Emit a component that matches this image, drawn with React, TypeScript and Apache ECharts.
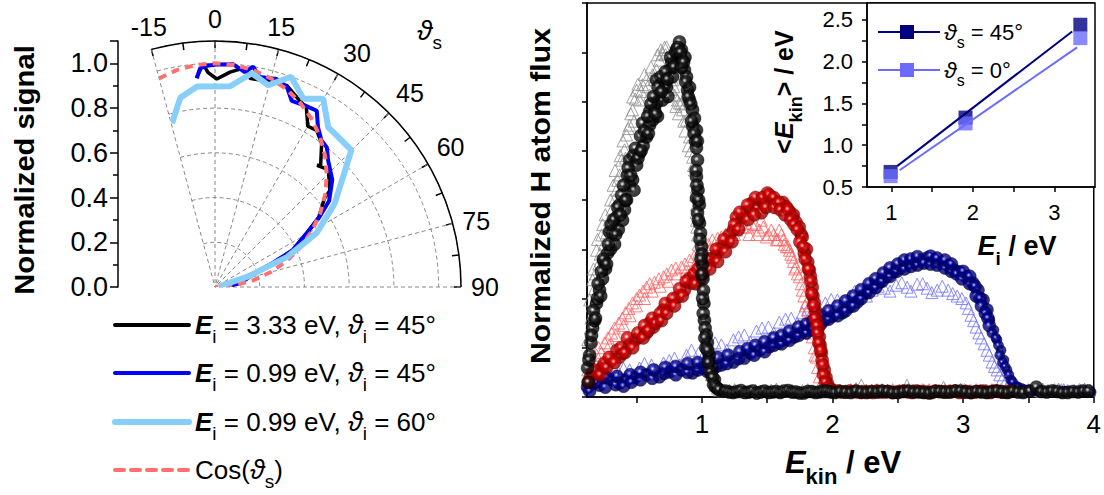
import React, { useEffect, useRef } from "react";
import * as echarts from "echarts";

const FONT = "'Liberation Sans', Arial, Helvetica, sans-serif";

// ---------- Left panel: angular distributions [angle (deg), normalized signal]
const polarE333i45: number[][] = [[-5,0.94],[-3.1,1.0],[-1.9,0.96],[0.5,0.93],[4,0.963],[7.8,0.99],[9.5,0.946],[15,0.95],[19.6,0.957],[23.3,0.924],[27,0.9],[30,0.83],[33,0.835],[36.6,0.8],[41,0.72],[40,0.71],[44,0.73],[50,0.67],[51,0.63],[56,0.56],[59.6,0.476],[64.6,0.385],[67.5,0.28],[70,0.198],[81.6,0.113],[86,0.05]];
const polarE099i45: number[][] = [[-5,0.936],[-3.9,0.98],[-2.1,0.99],[0.4,0.995],[4.7,0.999],[7.9,0.97],[9.8,1.0],[12,0.96],[16.5,0.97],[19.8,0.95],[22.4,0.9],[26.3,0.906],[30,0.91],[32.8,0.85],[36,0.81],[38.7,0.8],[41.7,0.76],[47.6,0.71],[52.9,0.64],[56.3,0.56],[59.6,0.476],[64.6,0.385],[67.5,0.28],[70,0.198],[81.6,0.113],[86,0.05]];
const polarE099i60: number[][] = [[-14.7,0.757],[-10.4,0.86],[-5.1,0.9],[4.3,0.9],[9.8,0.97],[14.8,0.933],[19.9,1.0],[25.1,0.93],[29.9,0.971],[35.3,0.876],[44.9,0.864],[55.1,0.653],[62,0.515],[67.4,0.35],[72.6,0.15],[80,0.02]];
const polarCos: number[][] = [[-15,0.966],[-10,0.985],[-5,0.996],[0,1],[5,0.996],[10,0.985],[15,0.966],[20,0.94],[25,0.906],[30,0.866],[35,0.819],[40,0.766],[45,0.707],[50,0.643],[55,0.574],[60,0.5],[65,0.423],[70,0.342],[75,0.259],[80,0.174],[85,0.087],[90,0]];
const legendEi = ["3.33", "0.99", "0.99"];
const legendThetaI = ["45", "45", "60"];

// ---------- Right panel: kinetic energy distributions [E_kin (eV), flux (arb.)]
const sph099: number[][] = [[0.125,0.59],[0.14,0.85],[0.15,1.1],[0.163,1.4],[0.178,1.55],[0.193,1.9],[0.2,2.0],[0.216,2.17],[0.239,2.4],[0.25,2.75],[0.262,2.6],[0.278,2.92],[0.293,3.35],[0.3,3.0],[0.316,3.33],[0.331,3.1],[0.346,3.65],[0.36,3.4],[0.369,3.9],[0.392,3.59],[0.407,3.8],[0.423,4.0],[0.43,4.5],[0.446,4.3],[0.469,4.41],[0.48,4.2],[0.446,4.81],[0.5,4.71],[0.522,4.95],[0.545,5.56],[0.55,5.1],[0.576,5.28],[0.599,5.52],[0.6,5.8],[0.622,5.62],[0.637,5.83],[0.652,5.97],[0.652,6.44],[0.66,5.7],[0.675,6.13],[0.698,6.03],[0.7,6.4],[0.713,6.34],[0.729,6.29],[0.74,6.1],[0.752,6.64],[0.77,6.8],[0.775,6.5],[0.79,6.94],[0.805,6.78],[0.805,7.05],[0.82,6.9],[0.828,7.21],[0.843,7.05],[0.851,6.84],[0.866,6.64],[0.87,6.9],[0.882,6.5],[0.89,6.23],[0.905,6.29],[0.905,6.03],[0.928,5.83],[0.93,5.5],[0.943,5.66],[0.95,5.2],[0.958,5.42],[0.958,5.06],[0.966,4.81],[0.958,4.47],[0.97,4.2],[0.958,4.04],[0.98,3.9],[0.966,3.74],[0.981,3.53],[0.989,3.33],[0.997,3.05],[1.0,2.9],[1.004,2.68],[1.008,2.4],[1.012,2.17],[1.015,1.9],[1.019,1.56],[1.025,1.4],[1.035,1.26],[1.042,1.1],[1.057,0.85],[1.073,0.59],[1.096,0.35],[1.118,0.18],[1.149,0.12],
  [0.13,0.3],[0.135,0.75],[0.155,1.25],[0.17,1.75],[0.185,1.6],[0.205,2.3],[0.225,2.05],[0.23,2.55],[0.245,2.8],[0.27,2.7],[0.285,3.1],[0.305,3.5],[0.325,3.6],[0.34,3.3],[0.355,3.85],[0.375,3.7],[0.385,4.1],[0.4,4.3],[0.415,4.0],[0.435,4.65],[0.455,4.5],[0.475,4.9],[0.49,5.05],[0.51,4.85],[0.53,5.3],[0.535,5.0],[0.56,5.4],[0.585,5.7],[0.59,5.35],[0.61,5.95],[0.63,6.1],[0.645,5.75],[0.665,6.3],[0.685,6.5],[0.69,6.2],[0.72,6.6],[0.735,6.45],[0.76,6.9],[0.785,6.7],[0.8,7.0],[0.815,7.1],[0.835,7.0],[0.845,6.7],[0.86,6.8],[0.875,6.4],[0.895,6.1],[0.915,5.95],[0.92,5.6],[0.94,5.35],[0.965,5.2],[0.955,4.6],[0.962,4.3],[0.975,4.0],[0.972,3.6],[0.985,3.2],[0.993,2.8],[1.0,2.5],[1.006,2.0],[1.01,1.7],[1.022,1.2],[1.03,1.0],[1.045,0.95],[1.05,0.7],[1.065,0.5],[1.08,0.4],[1.09,0.25],[1.105,0.2],[1.13,0.15],
  [1.18,0.12],[1.21,0.1],[1.24,0.09],[1.27,0.11],[1.3,0.13],[1.33,0.09],[1.36,0.1],[1.39,0.12],[1.42,0.08],[1.45,0.1],[1.48,0.12],[1.51,0.09],[1.54,0.1],[1.57,0.11],[1.6,0.09],[1.63,0.12],[1.66,0.13],[1.69,0.1],[1.72,0.1],[1.75,0.08],[1.78,0.08],[1.81,0.11],[1.84,0.11],[1.87,0.09],[1.9,0.1],[1.93,0.12],[1.96,0.12],[1.99,0.1],[2.02,0.09],[2.06,0.11],[2.1,0.1],[2.14,0.09],[2.18,0.12],[2.22,0.1],[2.26,0.09],[2.3,0.11],[2.34,0.1],[2.38,0.12],[2.42,0.11],[2.46,0.09],[2.5,0.09],[2.54,0.11],[2.58,0.12],[2.62,0.1],[2.66,0.1],[2.7,0.09],[2.74,0.08],[2.78,0.11],[2.82,0.11],[2.86,0.1],[2.9,0.1],[2.94,0.12],[2.98,0.12],[3.02,0.1],[3.06,0.09],[3.1,0.11],[3.14,0.1],[3.18,0.09],[3.22,0.11],[3.26,0.12],[3.3,0.1],[3.34,0.09],[3.38,0.12],[3.42,0.1],[3.46,0.09],[3.51,0.12],[3.56,0.2],[3.6,0.11],[3.64,0.1],[3.68,0.12],[3.72,0.11],[3.76,0.09],[3.8,0.09],[3.84,0.11],[3.88,0.1],[3.92,0.12],[3.96,0.12]];
const tri099: number[][] = [[0.125,0.55],[0.125,1.16],[0.14,1.97],[0.15,1.6],[0.163,2.38],[0.178,2.2],[0.193,2.98],[0.21,2.7],[0.232,3.29],[0.25,3.1],[0.27,3.33],[0.29,3.6],[0.31,3.8],[0.33,4.0],[0.346,4.2],[0.369,4.51],[0.385,4.81],[0.407,5.02],[0.423,5.32],[0.446,5.52],[0.469,5.83],[0.469,6.09],[0.5,6.23],[0.522,6.03],[0.545,6.34],[0.576,6.44],[0.599,6.13],[0.622,6.54],[0.652,6.64],[0.675,6.84],[0.698,6.98],[0.713,7.1],[0.729,7.11],[0.752,6.84],[0.775,6.44],[0.79,6.13],[0.813,6.03],[0.828,5.97],[0.851,5.83],[0.882,5.62],[0.905,5.28],[0.928,4.87],[0.943,4.61],[0.958,4.26],[0.958,3.9],[0.958,3.59],[0.966,3.29],[0.981,2.88],[0.997,2.48],[1.012,1.97],[1.027,1.36],[1.05,0.85],[1.073,0.45],[1.103,0.24],[1.134,0.14],
  [0.13,0.9],[0.145,1.4],[0.16,1.85],[0.17,2.6],[0.185,2.5],[0.2,3.2],[0.22,2.9],[0.24,3.5],[0.26,3.7],[0.28,3.45],[0.3,4.0],[0.32,4.3],[0.335,4.6],[0.355,4.4],[0.375,4.9],[0.395,5.2],[0.415,4.85],[0.435,5.45],[0.455,5.75],[0.48,5.6],[0.49,6.05],[0.51,6.35],[0.535,6.2],[0.56,6.55],[0.585,6.3],[0.61,6.7],[0.635,6.45],[0.66,6.95],[0.685,7.05],[0.72,6.95],[0.74,6.6],[0.76,6.25],[0.785,6.3],[0.8,5.9],[0.82,5.75],[0.84,5.95],[0.86,5.6],[0.87,5.4],[0.895,5.1],[0.915,5.0],[0.935,4.7],[0.95,4.4],[0.952,4.1],[0.955,3.75],[0.96,3.45],[0.972,3.1],[0.99,2.7],[1.005,2.2],[1.02,1.65],[1.035,1.1],[1.06,0.65],[1.085,0.35],[1.12,0.18],
  [1.17,0.12],[1.21,0.14],[1.25,0.15],[1.29,0.11],[1.33,0.1],[1.37,0.13],[1.41,0.14],[1.45,0.12],[1.49,0.11],[1.53,0.14],[1.57,0.16],[1.61,0.13],[1.65,0.12],[1.69,0.14],[1.73,0.1],[1.77,0.13],[1.81,0.15],[1.85,0.12],[1.89,0.12],[1.93,0.14],[1.97,0.1],[2.01,0.13],[2.05,0.14],[2.09,0.12],[2.13,0.12],[2.18,0.16],[2.22,0.24],[2.26,0.14],[2.3,0.13],[2.34,0.12],[2.38,0.15],[2.42,0.13],[2.46,0.11],[2.51,0.14],[2.57,0.24],[2.61,0.14],[2.65,0.13],[2.69,0.15],[2.73,0.12],[2.79,0.14],[2.85,0.2],[2.89,0.13],[2.93,0.13],[2.97,0.12],[3.01,0.15],[3.05,0.13],[3.09,0.12],[3.13,0.14],[3.17,0.14],[3.21,0.12],[3.25,0.13],[3.29,0.15],[3.33,0.15],[3.39,0.13],[3.45,0.12],[3.5,0.15],[3.55,0.14],[3.6,0.12],[3.65,0.13],[3.7,0.14],[3.75,0.15],[3.8,0.13],[3.85,0.12],[3.9,0.14],[3.95,0.14]];
const sph193: number[][] = [[0.148,0.41],[0.163,0.49],[0.2,0.51],[0.239,0.61],[0.255,0.69],[0.308,0.75],[0.35,0.95],[0.369,0.81],[0.392,0.89],[0.446,1.06],[0.492,1.16],[0.522,1.22],[0.576,1.3],[0.6,1.5],[0.629,1.42],[0.66,1.56],[0.706,1.77],[0.752,1.87],[0.813,2.03],[0.866,2.17],[0.9,2.4],[0.92,2.31],[0.981,2.38],[1.0,2.7],[1.027,2.64],[1.08,2.78],[1.1,2.85],[1.134,2.98],[1.157,3.05],[1.2,3.15],[1.21,3.29],[1.241,3.39],[1.264,3.65],[1.31,3.65],[1.33,3.75],[1.371,3.8],[1.386,3.94],[1.425,3.84],[1.44,4.0],[1.455,3.74],[1.478,3.94],[1.501,4.14],[1.531,4.04],[1.57,3.94],[1.608,3.9],[1.62,3.95],[1.646,3.86],[1.67,3.76],[1.692,3.65],[1.7,3.7],[1.72,3.55],[1.745,3.45],[1.76,3.3],[1.768,3.25],[1.784,2.92],[1.8,3.0],[1.81,2.74],[1.822,2.58],[1.83,2.45],[1.845,2.23],[1.85,2.05],[1.861,1.91],[1.87,1.75],[1.876,1.56],[1.89,1.4],[1.899,1.22],[1.905,1.05],[1.914,0.89],[1.92,0.75],[1.937,0.55],[1.95,0.4],[1.96,0.28],[1.998,0.14],
  [0.13,0.3],[0.175,0.55],[0.22,0.45],[0.27,0.6],[0.29,0.8],[0.33,0.7],[0.38,1.0],[0.41,0.9],[0.43,1.2],[0.47,1.0],[0.51,1.3],[0.55,1.2],[0.56,1.45],[0.59,1.35],[0.62,1.6],[0.645,1.5],[0.68,1.7],[0.69,1.55],[0.72,1.9],[0.73,1.7],[0.78,2.0],[0.79,1.85],[0.83,2.2],[0.85,2.05],[0.88,2.35],[0.94,2.5],[0.95,2.3],[0.97,2.6],[1.01,2.5],[1.05,2.8],[1.06,2.6],[1.11,3.0],[1.12,2.75],[1.17,3.2],[1.18,2.95],[1.23,3.15],[1.25,3.5],[1.28,3.4],[1.29,3.75],[1.35,3.6],[1.35,3.9],[1.4,3.7],[1.41,4.05],[1.465,4.05],[1.49,3.85],[1.515,4.1],[1.55,4.05],[1.555,3.85],[1.59,3.95],[1.6,3.8],[1.635,3.7],[1.66,3.8],[1.68,3.6],[1.705,3.5],[1.73,3.4],[1.75,3.15],[1.775,3.05],[1.79,2.8],[1.815,2.6],[1.835,2.35],[1.84,2.1],[1.855,1.85],[1.865,1.6],[1.88,1.45],[1.885,1.3],[1.895,1.1],[1.91,0.95],[1.925,0.65],[1.93,0.45],[1.945,0.3],[1.97,0.2],[1.98,0.15],[2.01,0.11],
  [2.04,0.12],[2.07,0.1],[2.1,0.1],[2.13,0.12],[2.16,0.11],[2.19,0.1],[2.22,0.09],[2.25,0.11],[2.28,0.1],[2.31,0.09],[2.34,0.12],[2.37,0.1],[2.4,0.1],[2.43,0.11],[2.46,0.09],[2.49,0.1],[2.52,0.11],[2.55,0.12],[2.58,0.1],[2.61,0.09],[2.64,0.12],[2.67,0.11],[2.7,0.1],[2.73,0.1],[2.76,0.09],[2.79,0.12],[2.82,0.11],[2.85,0.1],[2.88,0.1],[2.91,0.11],[2.94,0.12],[2.97,0.09],[3.0,0.1],[3.03,0.11],[3.06,0.09],[3.09,0.1],[3.12,0.11],[3.15,0.12],[3.18,0.1],[3.21,0.09],[3.24,0.12],[3.27,0.11],[3.3,0.1],[3.33,0.1],[3.36,0.11]];
const tri193: number[][] = [[0.125,0.35],[0.155,0.65],[0.193,0.85],[0.255,1.1],[0.308,1.3],[0.362,1.5],[0.415,1.71],[0.469,1.91],[0.522,2.07],[0.576,2.23],[0.637,2.33],[0.706,2.44],[0.767,2.58],[0.843,2.64],[0.905,2.78],[0.974,2.92],[1.027,3.05],[1.08,3.19],[1.149,3.25],[1.21,3.33],[1.264,3.39],[1.317,3.45],[1.379,3.53],[1.44,3.39],[1.455,3.59],[1.493,3.25],[1.531,3.39],[1.57,3.19],[1.592,3.39],[1.623,3.19],[1.646,3.05],[1.67,2.98],[1.692,2.84],[1.72,2.64],[1.745,2.44],[1.768,2.17],[1.799,1.91],[1.822,1.62],[1.845,1.22],[1.876,0.81],[1.899,0.41],[1.952,0.14],
  [0.135,0.5],[0.17,0.75],[0.21,1.0],[0.23,0.9],[0.28,1.2],[0.29,1.05],[0.33,1.4],[0.34,1.25],[0.39,1.6],[0.4,1.45],[0.44,1.8],[0.45,1.65],[0.5,2.0],[0.5,1.85],[0.55,2.15],[0.56,2.0],[0.6,2.3],[0.62,2.15],[0.67,2.4],[0.68,2.25],[0.73,2.5],[0.74,2.35],[0.8,2.62],[0.81,2.5],[0.87,2.7],[0.88,2.55],[0.94,2.85],[0.95,2.7],[1.0,3.0],[1.01,2.85],[1.05,3.1],[1.06,3.0],[1.12,3.22],[1.13,3.1],[1.18,3.3],[1.19,3.15],[1.24,3.45],[1.25,3.3],[1.29,3.5],[1.35,3.45],[1.36,3.3],[1.41,3.5],[1.42,3.3],[1.47,3.45],[1.51,3.3],[1.55,3.3],[1.58,3.2],[1.61,3.3],[1.63,3.1],[1.66,3.05],[1.68,2.9],[1.7,2.75],[1.71,2.6],[1.73,2.5],[1.76,2.3],[1.78,2.05],[1.79,1.85],[1.81,1.75],[1.83,1.45],[1.835,1.3],[1.86,1.0],[1.865,0.85],[1.885,0.6],[1.92,0.3],[1.935,0.22],
  [1.98,0.13],[2.02,0.15],[2.06,0.14],[2.1,0.13],[2.14,0.15],[2.18,0.17],[2.22,0.13],[2.26,0.12],[2.3,0.14],[2.34,0.15],[2.38,0.13],[2.42,0.14],[2.46,0.15],[2.5,0.12],[2.54,0.14],[2.58,0.16],[2.62,0.14],[2.66,0.13],[2.7,0.14],[2.74,0.15],[2.78,0.13],[2.82,0.12],[2.86,0.15],[2.9,0.14],[2.94,0.13],[2.98,0.16],[3.02,0.14],[3.06,0.13],[3.1,0.15],[3.14,0.12],[3.18,0.14],[3.22,0.15],[3.26,0.14],[3.3,0.13],[3.4,0.15],[3.5,0.14],[3.6,0.13],[3.7,0.15],[3.8,0.12],[3.9,0.14]];
const sph333: number[][] = [[0.125,0.2],[0.163,0.28],[0.216,0.24],[0.308,0.35],[0.369,0.28],[0.423,0.35],[0.484,0.39],[0.576,0.45],[0.675,0.41],[0.752,0.51],[0.843,0.55],[0.928,0.49],[1.004,0.59],[1.08,0.55],[1.149,0.65],[1.241,0.71],[1.325,0.79],[1.371,0.89],[1.44,0.95],[1.516,1.02],[1.585,1.1],[1.638,1.16],[1.707,1.22],[1.768,1.32],[1.822,1.36],[1.876,1.46],[1.937,1.56],[1.998,1.64],[2.075,1.71],[2.129,1.83],[2.19,1.93],[2.251,2.11],[2.304,2.23],[2.358,2.33],[2.411,2.44],[2.465,2.54],[2.518,2.62],[2.571,2.72],[2.625,2.74],[2.678,2.78],[2.724,2.82],[2.778,2.78],[2.831,2.72],[2.892,2.66],[2.93,2.58],[2.969,2.54],[3.022,2.44],[3.075,2.31],[3.113,2.17],[3.152,1.97],[3.182,1.77],[3.205,1.56],[3.236,1.36],[3.259,1.16],[3.29,0.95],[3.313,0.75],[3.336,0.55],[3.366,0.35],[3.405,0.22],[3.443,0.18],[3.504,0.14],
  [0.14,0.12],[0.19,0.3],[0.26,0.2],[0.27,0.4],[0.34,0.25],[0.35,0.42],[0.4,0.22],[0.45,0.45],[0.46,0.3],[0.53,0.35],[0.53,0.5],[0.62,0.38],[0.63,0.55],[0.71,0.48],[0.72,0.6],[0.8,0.45],[0.8,0.62],[0.89,0.5],[0.89,0.68],[0.97,0.55],[0.97,0.7],[1.04,0.52],[1.05,0.75],[1.11,0.62],[1.12,0.8],[1.19,0.68],[1.2,0.85],[1.28,0.78],[1.29,0.92],[1.35,0.98],[1.4,0.85],[1.41,1.05],[1.48,0.92],[1.48,1.12],[1.55,1.05],[1.55,1.2],[1.61,1.08],[1.61,1.25],[1.67,1.15],[1.67,1.33],[1.74,1.25],[1.74,1.42],[1.8,1.3],[1.8,1.48],[1.85,1.38],[1.85,1.55],[1.91,1.48],[1.91,1.65],[1.97,1.58],[1.97,1.75],[2.04,1.65],[2.04,1.85],[2.1,1.75],[2.1,1.95],[2.16,1.85],[2.16,2.05],[2.22,2.0],[2.22,2.18],[2.28,2.12],[2.28,2.3],[2.33,2.22],[2.33,2.4],[2.38,2.35],[2.39,2.52],[2.44,2.45],[2.44,2.62],[2.49,2.55],[2.5,2.7],[2.55,2.6],[2.55,2.78],[2.6,2.65],[2.6,2.8],[2.65,2.68],[2.65,2.85],[2.7,2.72],[2.75,2.7],[2.75,2.86],[2.8,2.68],[2.8,2.82],[2.86,2.62],[2.86,2.78],[2.91,2.55],[2.91,2.7],[2.95,2.5],[2.99,2.4],[3.0,2.55],[3.05,2.3],[3.05,2.45],[3.09,2.25],[3.1,2.05],[3.13,2.0],[3.14,1.85],[3.17,1.7],[3.19,1.6],[3.2,1.45],[3.22,1.3],[3.25,1.2],[3.27,1.05],[3.28,0.85],[3.3,0.7],[3.32,0.62],[3.35,0.45],[3.38,0.3],[3.42,0.2],[3.47,0.15],
  [3.54,0.12],[3.58,0.11],[3.62,0.1],[3.66,0.12],[3.7,0.11],[3.74,0.1],[3.78,0.12],[3.82,0.11],[3.86,0.1],[3.9,0.12],[3.94,0.11],[3.98,0.1]];
const tri333: number[][] = [[0.125,0.28],[0.216,0.39],[0.293,0.45],[0.362,0.49],[0.446,0.55],[0.522,0.59],[0.614,0.65],[0.706,0.69],[0.79,0.79],[0.882,0.85],[0.974,0.89],[1.057,1.0],[1.149,1.06],[1.241,1.16],[1.325,1.26],[1.417,1.34],[1.509,1.42],[1.592,1.52],[1.684,1.6],[1.768,1.71],[1.861,1.81],[1.945,1.91],[2.037,1.97],[2.129,2.05],[2.22,2.13],[2.304,2.17],[2.396,2.21],[2.487,2.27],[2.571,2.23],[2.648,2.29],[2.724,2.21],[2.801,2.17],[2.885,2.17],[2.954,2.05],[3.022,1.91],[3.06,1.66],[3.098,1.42],[3.137,1.2],[3.182,0.95],[3.221,0.71],[3.259,0.55],[3.297,0.35],[3.336,0.2],[3.39,0.14],
  [0.17,0.32],[0.25,0.5],[0.33,0.38],[0.4,0.58],[0.48,0.45],[0.56,0.68],[0.65,0.55],[0.75,0.74],[0.83,0.65],[0.92,0.95],[1.0,0.78],[1.1,1.1],[1.19,0.95],[1.28,1.22],[1.37,1.12],[1.46,1.4],[1.55,1.3],[1.64,1.58],[1.73,1.5],[1.81,1.78],[1.9,1.68],[1.99,1.98],[2.08,1.88],[2.17,2.15],[2.26,2.05],[2.35,2.25],[2.44,2.15],[2.53,2.32],[2.6,2.15],[2.69,2.3],[2.76,2.12],[2.84,2.25],[2.92,2.1],[2.99,2.0],[3.04,1.8],[3.08,1.55],[3.12,1.3],[3.16,1.08],[3.2,0.85],[3.24,0.62],[3.28,0.45],[3.32,0.28],[3.36,0.18],
  [3.42,0.15],[3.47,0.13],[3.53,0.13],[3.57,0.15],[3.61,0.16],[3.65,0.13],[3.69,0.14],[3.73,0.16],[3.77,0.15],[3.81,0.12],[3.85,0.13],[3.89,0.15],[3.93,0.16],[3.97,0.14]];
const mainXTicks = [0.5, 1, 1.5, 2, 2.5, 3, 3.5, 4];
const mainXLabels = [1, 2, 3, 4];

// ---------- Inset: mean kinetic energy vs incidence energy
const insetEi = [0.99, 1.91, 3.32];
const insetMean45 = [0.68, 1.33, 2.44];
const insetMean0 = [0.63, 1.26, 2.28];
const insetFit45: number[][] = [[1.07, 0.75], [3.22, 2.36]];
const insetFit0: number[][] = [[1.1, 0.7], [3.28, 2.17]];
const insetXTicks = [1, 1.5, 2, 2.5, 3];
const insetXLabels = [1, 2, 3];
const insetYTicks = [0.5, 0.75, 1, 1.25, 1.5, 1.75, 2, 2.25, 2.5];
const insetYLabels = [0.5, 1, 1.5, 2, 2.5];

const NAVY = "#000080";
const LIGHT = "#6b6bff";

const sphere = (hi: string, mid: string, dark: string) => ({
  type: "radial", x: 0.42, y: 0.4, r: 0.6,
  colorStops: [
    { offset: 0, color: "#ffffff" },
    { offset: 0.13, color: hi },
    { offset: 0.32, color: mid },
    { offset: 1, color: dark },
  ],
});

const blackLine = { color: "#000", width: 1.5 };

function richBase(size: number, bold: boolean) {
  const w = bold ? "bold" : "normal";
  return {
    n: { fontSize: size, fontFamily: FONT, fontWeight: w, fill: "#000", lineHeight: size + 8, verticalAlign: "middle" },
    e: { fontSize: size, fontFamily: FONT, fontWeight: "bold", fontStyle: "italic", fill: "#000", lineHeight: size + 8, verticalAlign: "middle" },
    t: { fontSize: size + 1, fontFamily: FONT, fontWeight: w, fontStyle: "italic", fill: "#000", lineHeight: size + 8, verticalAlign: "middle" },
    sub: { fontSize: Math.round(size * 0.72), fontFamily: FONT, fontWeight: w, fill: "#000", lineHeight: size + 8, verticalAlign: "middle", padding: [Math.round(size * 0.9), 0, 0, 0] },
  };
}

function textEl(x: number, y: number, text: string, rich: any, opts: any = {}) {
  return {
    type: "text", x, y, z: 100, silent: true,
    rotation: opts.rotation || 0,
    scaleX: opts.scaleX || 1,
    style: { text, rich, align: opts.align || "left", verticalAlign: "middle", fontFamily: FONT, fill: "#000" },
  };
}

export default function App() {
  const ref = useRef<HTMLDivElement>(null);
  useEffect(() => {
    if (!ref.current) return;
    const chart = echarts.init(ref.current, null, { renderer: "svg" });
    const legendRows = [325, 373, 422, 470];
    const legendColors = ["#000000", "#0000ff", "#87cefa", "#ff7070"];
    const legendWidths = [4, 4, 6, 4];
    const graphic: any[] = [];
    graphic.push(textEl(25, 170, "{n|Normalized signal}", richBase(27, true), { rotation: Math.PI / 2, align: "center", scaleX: 1.08 }));
    graphic.push(textEl(417, 30, "{t|ϑ}{sub|s}", richBase(27, false)));
    for (let i = 0; i < 4; i++) {
      graphic.push({
        type: "line", z: 100, silent: true,
        shape: { x1: 115, y1: legendRows[i], x2: 189, y2: legendRows[i] },
        style: { stroke: legendColors[i], lineWidth: legendWidths[i], lineDash: i === 3 ? [9, 7] : null, lineCap: "round" },
      });
      const txt = i < 3
        ? `{e|E}{sub|i}{n| = ${legendEi[i]} eV, }{t|ϑ}{sub|i}{n| = ${legendThetaI[i]}°}`
        : "{n|Cos(}{t|ϑ}{sub|s}{n|)}";
      graphic.push(textEl(195, legendRows[i], txt, richBase(26, false)));
    }
    graphic.push(textEl(541, 196, "{n|Normalized H atom flux}", richBase(27, true), { rotation: Math.PI / 2, align: "center", scaleX: 1.12 }));
    graphic.push(textEl(843, 462, "{e|E}{sub|kin}{n| / eV}", richBase(31, true), { align: "center" }));
    graphic.push(textEl(784, 92, "{n|<}{e|E}{sub|kin}{n|> / eV}", richBase(25, true), { rotation: Math.PI / 2, align: "center" }));
    graphic.push(textEl(1017, 246, "{e|E}{sub|i}{n| / eV}", richBase(27, true), { align: "center" }));
    const insetRows = [32, 70];
    const insetCols = [NAVY, LIGHT];
    const insetTxt = ["45", "0"];
    for (let i = 0; i < 2; i++) {
      graphic.push({ type: "line", z: 100, silent: true, shape: { x1: 878, y1: insetRows[i], x2: 940, y2: insetRows[i] }, style: { stroke: insetCols[i], lineWidth: 2 } });
      graphic.push({ type: "rect", z: 101, silent: true, shape: { x: 900, y: insetRows[i] - 7, width: 14, height: 14 }, style: { fill: insetCols[i] } });
      graphic.push(textEl(944, insetRows[i], `{t|ϑ}{sub|s}{n| = ${insetTxt[i]}°}`, richBase(22, false)));
    }

    const axisLbl = (size: number, margin: number) => ({ fontSize: size, color: "#000", fontFamily: FONT, margin });
    const hollow = (c: string) => ({ color: "rgba(0,0,0,0)", borderColor: c, borderWidth: 1 });

    const option: any = {
      animation: false,
      backgroundColor: "#ffffff",
      textStyle: { fontFamily: FONT },
      polar: { center: [215, 287], radius: 246 },
      angleAxis: {
        type: "value", min: -15, max: 90, interval: 15,
        startAngle: 105, endAngle: 0, clockwise: true,
        axisLine: { show: true, lineStyle: blackLine },
        axisTick: { show: true, inside: true, length: 7, lineStyle: blackLine },
        minorTick: { show: true, splitNumber: 2, length: 7, lineStyle: blackLine },
        axisLabel: { ...axisLbl(25, 10) },
        splitLine: { show: true, lineStyle: { color: "#888", width: 1, type: [4, 3] } },
      },
      radiusAxis: {
        type: "value", min: 0, max: 1.1, interval: 0.2,
        axisLine: { show: false }, axisTick: { show: false }, axisLabel: { show: false },
        splitLine: { show: true, lineStyle: { color: "#888", width: 1, type: [4, 3] } },
      },
      grid: [
        { left: 118, top: 41, width: 10, height: 246, show: false },
        { left: 587, top: 3, right: 9, bottom: 98, show: true, borderColor: "#000", borderWidth: 1.5 },
        { left: 867, top: 3, right: 9, bottom: 308, show: true, backgroundColor: "#fff", borderColor: "#000", borderWidth: 1.5 },
      ],
      xAxis: [
        { gridIndex: 0, type: "value", show: false, min: 0, max: 1 },
        {
          gridIndex: 1, type: "value", min: 0.12, max: 4,
          axisLine: { show: true, onZero: false, lineStyle: blackLine },
          axisTick: { show: true, customValues: mainXTicks, length: 6, lineStyle: blackLine },
          axisLabel: { ...axisLbl(26, 14), customValues: mainXLabels },
          splitLine: { show: false },
        },
        {
          gridIndex: 2, type: "value", min: 0.7, max: 3.5,
          axisLine: { show: true, onZero: false, lineStyle: blackLine },
          axisTick: { show: true, customValues: insetXTicks, length: 5, lineStyle: blackLine },
          axisLabel: { ...axisLbl(22, 14), customValues: insetXLabels },
          splitLine: { show: false },
        },
      ],
      yAxis: [
        {
          gridIndex: 0, type: "value", min: 0, max: 1.1, interval: 0.2,
          axisLine: { show: true, onZero: false, lineStyle: blackLine },
          axisTick: { show: true, length: 8, lineStyle: blackLine },
          minorTick: { show: true, splitNumber: 2, length: 5, lineStyle: blackLine },
          axisLabel: { ...axisLbl(27, 10), showMaxLabel: false, formatter: (v: number) => (v > 1.05 ? "" : v.toFixed(1)) },
          splitLine: { show: false },
        },
        {
          gridIndex: 1, type: "value", min: 0, max: 8, interval: 1,
          axisLine: { show: true, onZero: false, lineStyle: blackLine },
          axisTick: { show: true, length: 5, lineStyle: blackLine },
          axisLabel: { show: false },
          splitLine: { show: false },
        },
        {
          gridIndex: 2, type: "value", min: 0.5, max: 2.7,
          axisLine: { show: true, onZero: false, lineStyle: blackLine },
          axisTick: { show: true, customValues: insetYTicks, length: 5, lineStyle: blackLine },
          axisLabel: { ...axisLbl(22, 14), customValues: insetYLabels, formatter: (v: number) => v.toFixed(1) },
          splitLine: { show: false },
        },
      ],
      graphic: { elements: graphic },
      series: [
        { type: "line", coordinateSystem: "polar", polarIndex: 0, data: polarE333i45.map(([a, r]) => [r, a]), symbol: "none", lineStyle: { color: "#000", width: 3.5 }, z: 3 },
        { type: "line", coordinateSystem: "polar", polarIndex: 0, data: polarE099i45.map(([a, r]) => [r, a]), symbol: "none", lineStyle: { color: "#0000ff", width: 4 }, z: 4 },
        { type: "line", coordinateSystem: "polar", polarIndex: 0, data: polarCos.map(([a, r]) => [r, a]), symbol: "none", lineStyle: { color: "#ff7070", width: 4, type: [8, 6] }, z: 5 },
        { type: "line", coordinateSystem: "polar", polarIndex: 0, data: polarE099i60.map(([a, r]) => [r, a]), symbol: "none", lineStyle: { color: "#87cefa", width: 6 }, z: 6 },
        { type: "scatter", xAxisIndex: 1, yAxisIndex: 1, data: tri333, symbol: "triangle", symbolSize: 12, itemStyle: hollow("#6f6fff") },
        { type: "scatter", xAxisIndex: 1, yAxisIndex: 1, data: tri193, symbol: "triangle", symbolSize: 12, itemStyle: hollow("#ff5c5c") },
        { type: "scatter", xAxisIndex: 1, yAxisIndex: 1, data: tri099, symbol: "triangle", symbolSize: 12, itemStyle: hollow("#8c8c8c") },
        { type: "scatter", xAxisIndex: 1, yAxisIndex: 1, data: sph333, symbolSize: (v: number[]) => (v[0] > 3.2 ? 10 : 13), itemStyle: { color: sphere("#8080e0", "#000099", "#000050"), borderColor: "#000040", borderWidth: 0.5 } },
        { type: "scatter", xAxisIndex: 1, yAxisIndex: 1, data: sph193, symbolSize: 13, itemStyle: { color: sphere("#ff9090", "#dd0000", "#880000"), borderColor: "#700000", borderWidth: 0.5 } },
        { type: "scatter", xAxisIndex: 1, yAxisIndex: 1, data: sph099, symbolSize: 13, itemStyle: { color: sphere("#b0b0b0", "#1a1a1a", "#000000"), borderColor: "#000", borderWidth: 0.5 } },
        { type: "line", xAxisIndex: 2, yAxisIndex: 2, data: insetFit45, symbol: "none", lineStyle: { color: NAVY, width: 2 } },
        { type: "line", xAxisIndex: 2, yAxisIndex: 2, data: insetFit0, symbol: "none", lineStyle: { color: LIGHT, width: 2 } },
        { type: "scatter", xAxisIndex: 2, yAxisIndex: 2, data: insetEi.map((e, i) => [e, insetMean45[i]]), symbol: "rect", symbolSize: 14, itemStyle: { color: NAVY } },
        { type: "scatter", xAxisIndex: 2, yAxisIndex: 2, data: insetEi.map((e, i) => [e, insetMean0[i]]), symbol: "rect", symbolSize: 14, itemStyle: { color: LIGHT } },
      ],
    };
    chart.setOption(option);
    return () => chart.dispose();
  }, []);
  return (
    <div
      ref={ref}
      style={{ position: "fixed", left: 0, top: 0, width: 1104, height: 495, background: "#fff" }}
    />
  );
}
